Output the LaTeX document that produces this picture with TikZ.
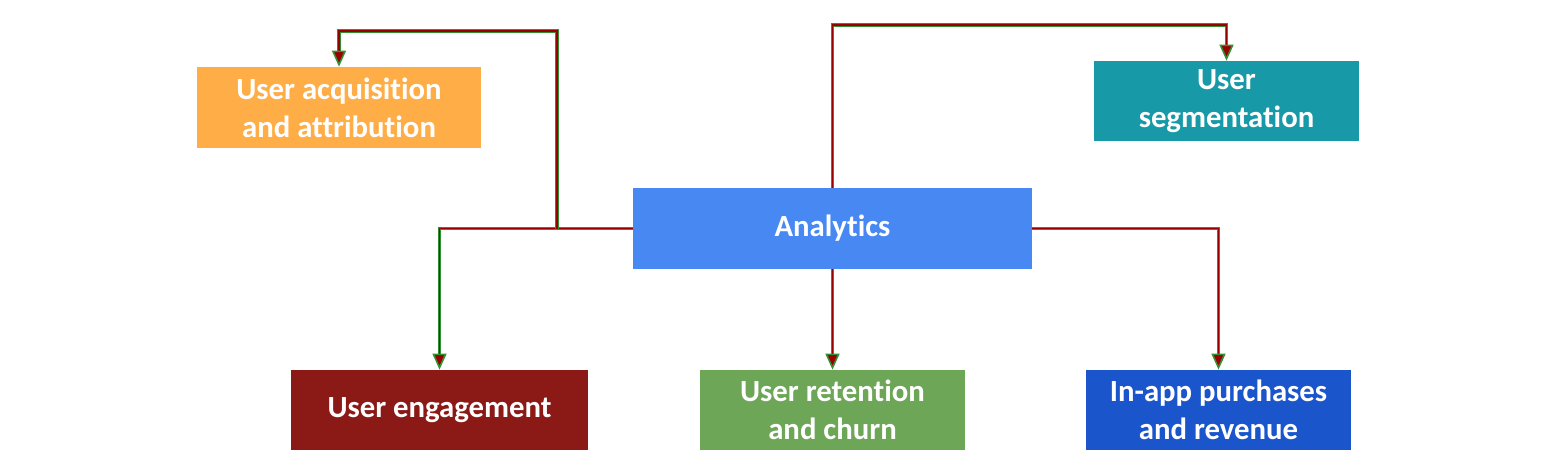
\documentclass[tikz,border=0pt]{standalone}
\usepackage{fontspec}
\setmainfont{Carlito}[Ligatures=NoCommon]
\usepackage{tikz}
\definecolor{colorACQ}{HTML}{FFAD46}
\definecolor{colorSEG}{HTML}{1799A8}
\definecolor{colorANA}{HTML}{4788F2}
\definecolor{colorENG}{HTML}{8B1A17}
\definecolor{colorRET}{HTML}{6CA656}
\definecolor{colorIAP}{HTML}{1A55CC}
\colorlet{colorLinkR}{red!60!black}
\colorlet{colorLinkG}{green!45!black!80!white}
\usetikzlibrary{calc}
\usetikzlibrary{arrows.meta}
\tikzset{
   every path/.style={>={Triangle[length=3.2mm,width=2.8mm,color=colorLinkG,fill=colorLinkR]}},
   box/.style={rectangle,fill=#1,text=white,align=center,inner sep=0pt,
      font=\fontsize{17.5}{21.5}\selectfont\bfseries},
   link/.style={->,color=colorLinkR,line width=0.9pt,
      preaction={draw=colorLinkG,line width=2pt,-,shorten >=2.5mm}},
}

\begin{document}
\begin{tikzpicture}[x=0.02cm,y=-0.02cm]

        \useasboundingbox (0,0) rectangle (1564,466);

        \node[box=colorANA,minimum width=7.98cm,minimum height=1.62cm] (ana) at (832.5, 228.5) {Analytics};

        \node[box=colorACQ,minimum width=5.68cm,minimum height=1.62cm] (acq) at (339, 107.5) {User acquisition\\and attribution};
        \node[box=colorSEG,minimum width=5.30cm,minimum height=1.60cm] (seg) at (1226.5, 101) {User\\segmentation};

        \node[box=colorENG,minimum width=5.94cm,minimum height=1.60cm] (eng) at (439.5, 410) {User engagement};
        \node[box=colorRET,minimum width=5.30cm,minimum height=1.60cm] (ret) at (832.5, 410) {User retention\\and churn};
        \node[box=colorIAP,minimum width=5.30cm,minimum height=1.60cm] (iap) at (1218.5, 410) {In-app purchases\\and revenue};

        \coordinate (jl) at (557, 228.5);
        \coordinate (tl) at (557, 31);
        \coordinate (tr) at (1226.5, 25);

        \draw[link] (ana.west) -| (eng.north);
        \draw[link] (jl) -- (tl) -| (acq.north);
        \draw[link] (ana.north) |- (tr) -- (seg.north);
        \draw[link] (ana.south) -- (ret.north);
        \draw[link] (ana.east) -| (iap.north);

      \end{tikzpicture}
\end{document}
